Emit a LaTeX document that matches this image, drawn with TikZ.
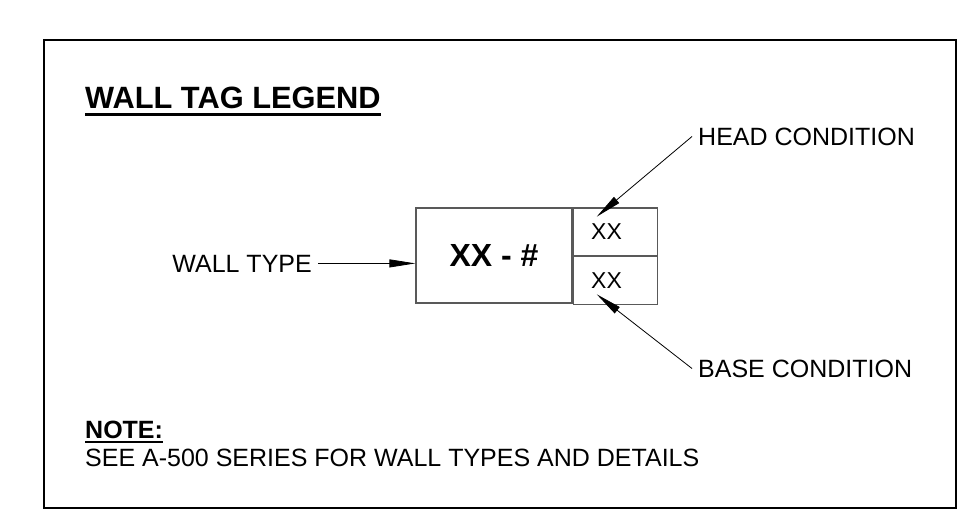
\documentclass[tikz,border=0pt]{standalone}
\usepackage{fontspec}
\setmainfont{Liberation Sans}
\usetikzlibrary{arrows.meta}
\newcommand{\tagfont}{\fontsize{25}{30}\selectfont}

\begin{document}
\begin{tikzpicture}[x=1pt,y=-1pt,
  cell/.style={draw=black!65,line width=1.2pt,inner sep=0pt},
  lbl/.style={font=\tagfont,inner ysep=0pt},
  leader/.style={-{Triangle[length=26pt,width=8pt]},line width=0.8pt}]
  \useasboundingbox (0,0) rectangle (969,519);
  \draw[line width=2pt] (44,40.3) rectangle (955.7,507.8);

  % title and note
  \node[anchor=base west,inner sep=0pt,font=\bfseries\fontsize{30.8}{36}\selectfont] (title) at (85,108) {WALL TAG LEGEND};
  \draw[line width=3pt] ([yshift=-6.5pt]title.base west) -- ([yshift=-6.5pt]title.base east);
  \node[anchor=base west,inner sep=0pt,font=\bfseries\tagfont] (note) at (85,438) {NOTE:};
  \draw[line width=2pt] ([yshift=-3.5pt]note.base west) -- ([yshift=-3.5pt]note.base east);
  \node[anchor=base west,inner sep=0pt,font=\tagfont] (notetxt) at (85,466) {SEE A-500 SERIES FOR WALL TYPES AND DETAILS};

  % the tag
  \node[cell,minimum width=156pt,minimum height=95pt,font=\bfseries\fontsize{32}{36}\selectfont] (tag) at (494,255.5) {XX - \#};
  \node[cell,anchor=north west,minimum height=47.5pt,text width=48pt,inner xsep=18pt,align=left,font=\fontsize{23}{26}\selectfont] (head) at (tag.north east) {XX};
  \node[cell,anchor=north west,minimum height=47.5pt,text width=48pt,inner xsep=18pt,align=left,font=\fontsize{23}{26}\selectfont] (base) at (head.south west) {XX};

  % leaders
  \node[lbl,inner xsep=6pt,anchor=east] (wtype) at (318,263.4) {WALL TYPE};
  \draw[leader] (wtype.east) -- (wtype.east -| tag.west);
  \node[lbl,inner xsep=6pt,anchor=west] (hcond) at (692,136.5) {HEAD CONDITION};
  \coordinate (htip) at (596.7,216.7);
  \draw[leader] (hcond.west) -- (htip);
  \node[lbl,inner xsep=6pt,anchor=west] (bcond) at (692,368.5) {BASE CONDITION};
  \coordinate (btip) at (596.7,294.3);
  \draw[leader] (bcond.west) -- (btip);
\end{tikzpicture}
\end{document}
